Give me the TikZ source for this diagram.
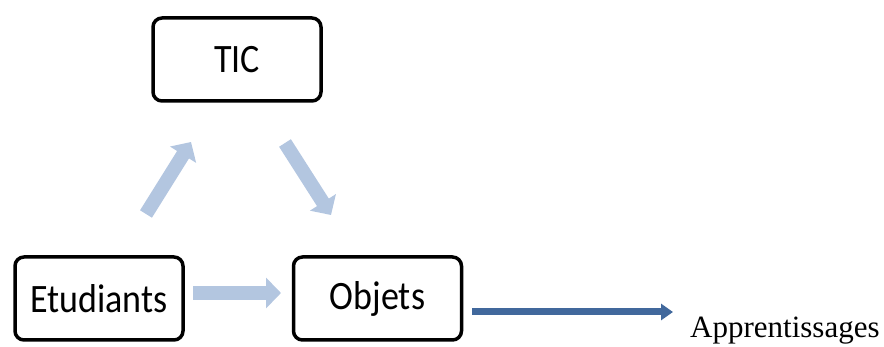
\documentclass[tikz,border=0pt]{standalone}
\usepackage{fontspec}
\setmainfont{Liberation Serif}
\newfontfamily\boxfont{Carlito}
\usetikzlibrary{arrows.meta}
\definecolor{lightarrow}{HTML}{B3C6E0}
\definecolor{darkarrow}{HTML}{41689C}
\newcommand{\tallbox}[1]{\scalebox{1}[1.12]{#1}}
\tikzset{
  boxnode/.style={draw=black, line width=3.5pt, rounded corners=9pt, fill=white,
    minimum width=168pt, minimum height=83pt, inner sep=0pt,
    font=\boxfont\fontsize{36}{40}\selectfont},
  lightarr/.style={draw=lightarrow, line width=14pt,
    -{Triangle[width=30pt 0, length=15pt 0]}},
  darkarr/.style={draw=darkarrow, line width=7pt,
    -{Triangle[width=16pt 0, length=12pt 0]}},
}
\begin{document}
\begin{tikzpicture}[x=1pt, y=-1pt]
\useasboundingbox (0,0) rectangle (884,347);
\node[boxnode] (tic) at (237,59.5) {\tallbox{TIC}};
\node[boxnode] (etu) at (99,298.5) {\tallbox{Etudiants}};
\node[boxnode] (obj) at (377.5,298.5) {\tallbox{Objets}};
\coordinate (a1s) at (146,214);
\coordinate (a1e) at (191,142);
\coordinate (a2s) at (285,143);
\coordinate (a2e) at (331,215);
\coordinate (a3s) at (193,293);
\coordinate (a3e) at (281,293);
\coordinate (a4s) at (472,312);
\coordinate (a4e) at (673,312);
\draw[lightarr] (a1s) -- (a1e);
\draw[lightarr] (a2s) -- (a2e);
\draw[lightarr] (a3s) -- (a3e);
\draw[darkarr] (a4s) -- (a4e);
\node[anchor=base west, inner sep=0pt, font=\fontsize{31}{34}\selectfont] (app) at (690,338) {Apprentissages};
\end{tikzpicture}
\end{document}
